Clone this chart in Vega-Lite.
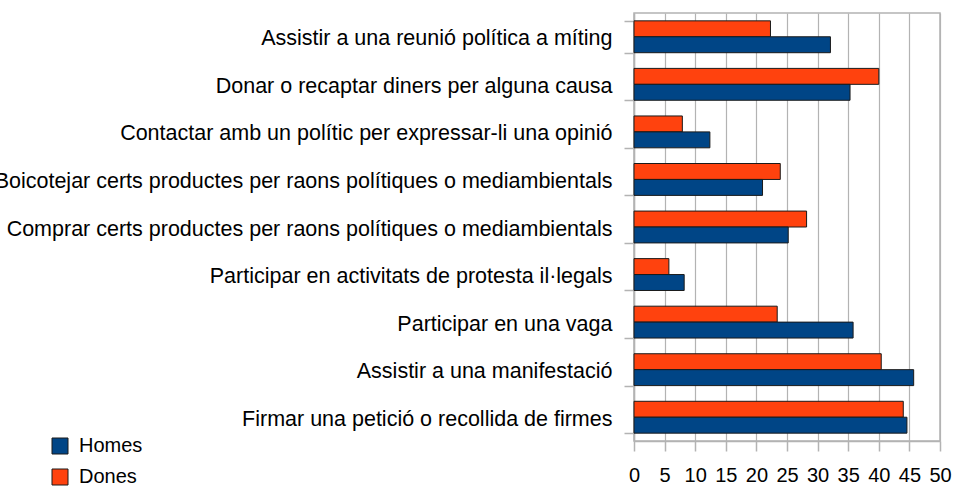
{
  "$schema": "https://vega.github.io/schema/vega-lite/v6.json",
  "autosize": {"type": "none"},
  "width": 306,
  "height": 428,
  "padding": {"left": 634, "top": 13, "right": 14, "bottom": 47},
  "background": "white",
  "config": {
    "font": "Liberation Sans",
    "view": {"stroke": "#b3b3b3", "strokeWidth": 1.5}
  },
  "data": {
    "values": [
      {"cat": "Assistir a una reunió política a míting", "serie": "Dones", "v": 22.3},
      {"cat": "Assistir a una reunió política a míting", "serie": "Homes", "v": 32.1},
      {"cat": "Donar o recaptar diners per alguna causa", "serie": "Dones", "v": 40.0},
      {"cat": "Donar o recaptar diners per alguna causa", "serie": "Homes", "v": 35.3},
      {"cat": "Contactar amb un polític per expressar-li una opinió", "serie": "Dones", "v": 7.9},
      {"cat": "Contactar amb un polític per expressar-li una opinió", "serie": "Homes", "v": 12.4},
      {"cat": "Boicotejar certs productes per raons polítiques o mediambientals", "serie": "Dones", "v": 23.9},
      {"cat": "Boicotejar certs productes per raons polítiques o mediambientals", "serie": "Homes", "v": 21.0},
      {"cat": "Comprar certs productes per raons polítiques o mediambientals", "serie": "Dones", "v": 28.2},
      {"cat": "Comprar certs productes per raons polítiques o mediambientals", "serie": "Homes", "v": 25.2},
      {"cat": "Participar en activitats de protesta il·legals", "serie": "Dones", "v": 5.7},
      {"cat": "Participar en activitats de protesta il·legals", "serie": "Homes", "v": 8.2},
      {"cat": "Participar en una vaga", "serie": "Dones", "v": 23.4},
      {"cat": "Participar en una vaga", "serie": "Homes", "v": 35.8},
      {"cat": "Assistir a una manifestació", "serie": "Dones", "v": 40.4},
      {"cat": "Assistir a una manifestació", "serie": "Homes", "v": 45.7},
      {"cat": "Firmar una petició o recollida de firmes", "serie": "Dones", "v": 44.0},
      {"cat": "Firmar una petició o recollida de firmes", "serie": "Homes", "v": 44.6}
    ]
  },
  "mark": {"type": "bar", "stroke": "#1a1a1a", "strokeWidth": 1},
  "encoding": {
    "y": {
      "field": "cat", "type": "nominal", "sort": null,
      "scale": {"paddingInner": 0.33, "paddingOuter": 0.165},
      "axis": {
        "title": null, "labelFontSize": 21.5, "labelColor": "#000000", "labelPadding": 12,
        "labelOffset": 2,
        "labelLimit": 0, "tickBand": "extent", "tickSize": 10, "tickColor": "#b3b3b3",
        "tickWidth": 1.5, "domainColor": "#b3b3b3", "domainWidth": 1.5
      }
    },
    "yOffset": {"field": "serie", "type": "nominal", "sort": ["Dones", "Homes"]},
    "x": {
      "field": "v", "type": "quantitative",
      "scale": {"domain": [0, 50], "nice": false},
      "axis": {
        "title": null, "values": [0, 5, 10, 15, 20, 25, 30, 35, 40, 45, 50],
        "labelOverlap": false, "labelFlush": false,
        "labelFontSize": 20, "labelColor": "#000000", "labelPadding": 14,
        "tickSize": 10, "tickColor": "#b3b3b3", "tickWidth": 1.5,
        "domainColor": "#b3b3b3", "domainWidth": 1.5,
        "grid": true, "gridColor": "#b3b3b3", "gridWidth": 1.2
      }
    },
    "color": {
      "field": "serie", "type": "nominal",
      "scale": {"domain": ["Homes", "Dones"], "range": ["#004586", "#ff420e"]},
      "legend": {
        "title": null, "orient": "none", "legendX": -584, "legendY": 423,
        "symbolType": "square", "symbolSize": 256, "symbolStrokeColor": "#1a1a1a",
        "symbolStrokeWidth": 1, "labelFontSize": 20, "labelColor": "#000000",
        "rowPadding": 11, "labelOffset": 9
      }
    }
  }
}
